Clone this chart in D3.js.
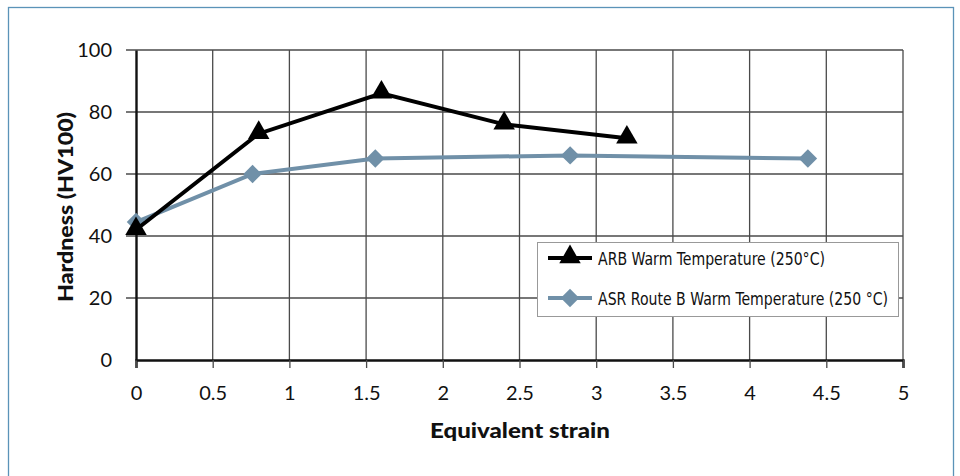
<!DOCTYPE html>
<html>
<head>
<meta charset="utf-8">
<script src="https://cdn.jsdelivr.net/npm/d3@7"></script>
<style>
  body { margin: 0; background: #fff; }
  svg { display: block; }
</style>
</head>
<body>
<svg id="chart" width="960" height="476"></svg>
<script>
// data
var arbStrain = [0, 0.8, 1.6, 2.4, 3.2];
var arbHardness = [42, 73, 86, 76, 71.5];
var asrStrain = [0, 0.76, 1.56, 2.83, 4.38];
var asrHardness = [44.5, 60, 65, 66, 65];
var xTicks = [0, 0.5, 1, 1.5, 2, 2.5, 3, 3.5, 4, 4.5, 5];
var yTicks = [0, 20, 40, 60, 80, 100];
var seriesNames = ["ARB Warm Temperature (250°C)", "ASR Route B Warm Temperature (250 °C)"];

var svg = d3.select("#chart");
var plotLeft = 136, plotRight = 903, plotTop = 50, plotBottom = 360;
var font = "Lato, 'DejaVu Sans', sans-serif";

var x = d3.scaleLinear().domain([0, 5]).range([plotLeft, plotRight]);
var y = d3.scaleLinear().domain([0, 100]).range([plotBottom, plotTop]);

// outer frame
svg.append("rect")
  .attr("x", 8.5).attr("y", 7.5).attr("width", 945).attr("height", 480)
  .attr("fill", "none").attr("stroke", "#5b93b8").attr("stroke-width", 1.3);

// grid
svg.append("g").selectAll("line").data(xTicks.slice(1)).enter().append("line")
  .attr("x1", d => x(d)).attr("x2", d => x(d))
  .attr("y1", plotTop).attr("y2", plotBottom)
  .attr("stroke", "#4a4a4a").attr("stroke-width", 1.3);
svg.append("g").selectAll("line").data(yTicks.slice(1)).enter().append("line")
  .attr("x1", plotLeft - 10).attr("x2", plotRight)
  .attr("y1", d => y(d)).attr("y2", d => y(d))
  .attr("stroke", "#4a4a4a").attr("stroke-width", 1.3);

// axes
var xAxis = d3.axisBottom(x).tickValues(xTicks).tickSize(8).tickPadding(18)
  .tickFormat(d3.format("~g"));
var gx = svg.append("g").attr("transform", "translate(0," + plotBottom + ")").call(xAxis);
gx.select(".domain").attr("stroke", "#111").attr("stroke-width", 2.4);
gx.selectAll(".tick line").attr("stroke", "#4a4a4a").attr("stroke-width", 1.3);
gx.selectAll("text").attr("font-family", font)
  .attr("font-size", 20).attr("fill", "#111");

var yAxis = d3.axisLeft(y).tickValues(yTicks).tickSize(0).tickPadding(24);
var gy = svg.append("g").attr("transform", "translate(" + plotLeft + ",0)").call(yAxis);
gy.select(".domain").attr("stroke", "#111").attr("stroke-width", 2.4);
gy.selectAll("text").attr("font-family", font)
  .attr("font-size", 20).attr("fill", "#111");

// axis titles
svg.append("text")
  .attr("x", 520).attr("y", 438)
  .attr("text-anchor", "middle")
  .attr("font-family", font)
  .attr("font-weight", 900).attr("font-size", 20).attr("fill", "#111")
  .attr("textLength", 180).attr("lengthAdjust", "spacingAndGlyphs")
  .text("Equivalent strain");
svg.append("text")
  .attr("transform", "translate(73,207) rotate(-90)")
  .attr("text-anchor", "middle")
  .attr("font-family", font)
  .attr("font-weight", 900).attr("font-size", 20).attr("fill", "#111")
  .attr("textLength", 190).attr("lengthAdjust", "spacingAndGlyphs")
  .text("Hardness (HV100)");

var line = d3.line().x(d => x(d[0])).y(d => y(d[1]));
var arb = arbStrain.map((s, i) => [s, arbHardness[i]]);
var asr = asrStrain.map((s, i) => [s, asrHardness[i]]);

var grey = "#7090a8";
var tri = d3.symbol().type(d3.symbolTriangle).size(200);
var dia = d3.symbol().type(d3.symbolSquare).size(170);

svg.append("path").datum(asr).attr("d", line)
  .attr("fill", "none").attr("stroke", grey).attr("stroke-width", 4);
svg.append("g").selectAll("path").data(asr).enter().append("path")
  .attr("d", dia)
  .attr("transform", d => "translate(" + x(d[0]) + "," + y(d[1]) + ") rotate(45)")
  .attr("fill", grey);

svg.append("path").datum(arb).attr("d", line)
  .attr("fill", "none").attr("stroke", "#000").attr("stroke-width", 4);
svg.append("g").selectAll("path").data(arb).enter().append("path")
  .attr("d", tri)
  .attr("transform", d => "translate(" + x(d[0]) + "," + (y(d[1]) - 1) + ")")
  .attr("fill", "#000");

// legend
var lg = svg.append("g");
lg.append("rect")
  .attr("x", 537.5).attr("y", 242.5).attr("width", 361).attr("height", 74)
  .attr("fill", "#fff").attr("stroke", "#999").attr("stroke-width", 1);
var rows = [
  { c: "#000", sym: tri, rot: "", w: 227 },
  { c: grey, sym: dia, rot: " rotate(45)", w: 290 }
];
rows.forEach(function(r, i) {
  var cy = 258 + i * 40;
  lg.append("line").attr("x1", 548).attr("x2", 592).attr("y1", cy).attr("y2", cy)
    .attr("stroke", r.c).attr("stroke-width", 4);
  lg.append("path").attr("d", r.sym)
    .attr("transform", "translate(570," + (cy - (i == 0 ? 1 : 0)) + ")" + r.rot)
    .attr("fill", r.c);
  lg.append("text").attr("x", 598).attr("y", cy + 7)
    .attr("font-family", "'DejaVu Sans Condensed', 'DejaVu Sans', sans-serif")
    .attr("font-size", 18).attr("fill", "#111")
    .attr("textLength", r.w).attr("lengthAdjust", "spacingAndGlyphs")
    .text(seriesNames[i]);
});
</script>
</body>
</html>
